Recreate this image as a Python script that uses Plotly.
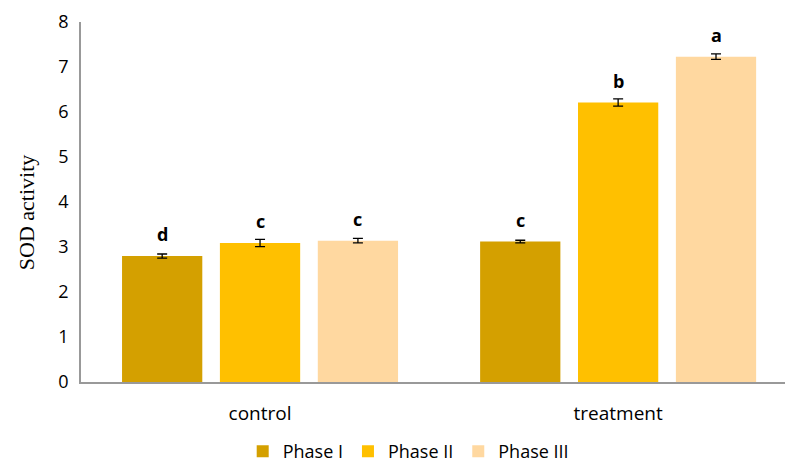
import plotly.graph_objects as go

groups = ["control", "treatment"]
phases = ["Phase I", "Phase II", "Phase III"]
values = {
    "Phase I": [2.80, 3.12],
    "Phase II": [3.09, 6.21],
    "Phase III": [3.14, 7.23],
}
errors = {
    "Phase I": [0.045, 0.03],
    "Phase II": [0.08, 0.08],
    "Phase III": [0.05, 0.06],
}
letters = {
    "Phase I": ["d", "c"],
    "Phase II": ["c", "b"],
    "Phase III": ["c", "a"],
}
colors = {
    "Phase I": "#D4A000",
    "Phase II": "#FFC000",
    "Phase III": "#FFD8A0",
}

sans = "Open Sans, Liberation Sans, sans-serif"
serif = "Liberation Serif, Times New Roman, serif"
BARGAP = 0.18

fig = go.Figure()
for p in phases:
    fig.add_trace(go.Bar(
        name=p,
        x=groups,
        y=values[p],
        marker=dict(color=colors[p], line=dict(width=0)),
        error_y=dict(type="data", array=errors[p], color="#000000",
                     thickness=1.3, width=5),
        offsetgroup=p,
    ))

# significance letters above each bar, positioned from the bar value
n = len(phases)
slot = (1 - BARGAP) / n
for i, p in enumerate(phases):
    for j, g in enumerate(groups):
        xpos = j - (1 - BARGAP) / 2 + slot * (i + 0.5)
        fig.add_annotation(
            x=xpos, y=values[p][j], xref="x", yref="y",
            text="<b>%s</b>" % letters[p][j],
            showarrow=False, yanchor="middle", yshift=22,
            font=dict(family=sans, size=18, color="#000000"),
        )

# y-axis title
fig.add_annotation(
    text="SOD activity", xref="paper", yref="paper",
    x=-0.078, y=0.472, xanchor="center", yanchor="middle",
    textangle=-90, showarrow=False,
    font=dict(family=serif, size=22, color="#000000"),
)

fig.update_layout(
    width=785, height=470,
    margin=dict(l=81, r=0, t=22, b=88, autoexpand=False),
    paper_bgcolor="white", plot_bgcolor="white",
    barmode="group", bargap=BARGAP, bargroupgap=0.18,
    showlegend=True,
    legend=dict(orientation="h", xref="container", yref="container",
                x=0.52, xanchor="center", y=-0.013, yanchor="bottom",
                font=dict(family=sans, size=18, color="#000000"),
                tracegroupgap=0),
    xaxis=dict(
        type="category", range=[-0.5, 1.466],
        showline=True, linecolor="#999999", linewidth=1.5,
        ticks="", showgrid=False, zeroline=False,
        tickfont=dict(family=sans, size=19, color="#000000"),
        ticklabelstandoff=13,
    ),
    yaxis=dict(
        range=[0, 8], dtick=1,
        showline=True, linecolor="#999999", linewidth=1.5,
        ticks="", showgrid=False, zeroline=False,
        tickfont=dict(family=sans, size=18, color="#000000"),
        ticklabelstandoff=7,
    ),
)

fig.write_html("out.html")
